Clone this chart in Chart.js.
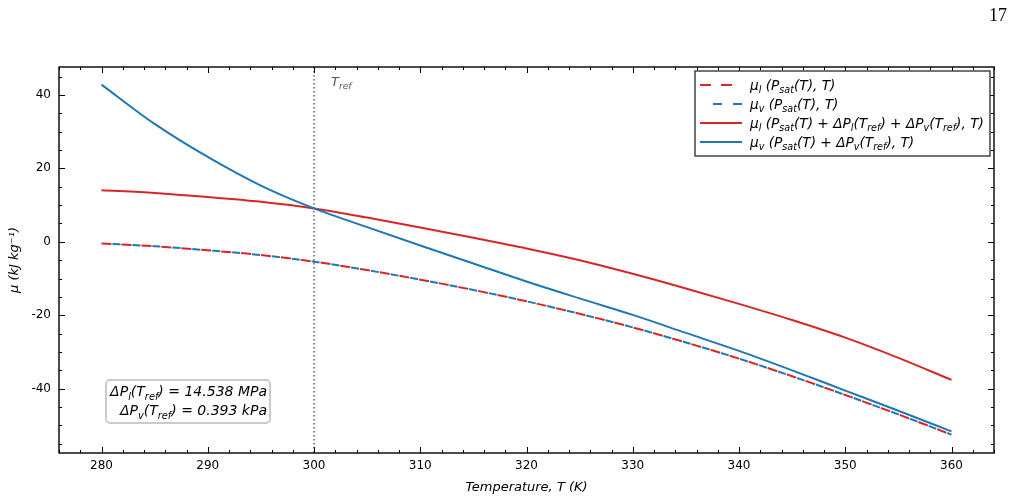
<!DOCTYPE html>
<html>
<head>
<meta charset="utf-8">
<script src="https://cdn.jsdelivr.net/npm/chart.js@4.4.0/dist/chart.umd.min.js"></script>
<style>
  html, body { margin: 0; padding: 0; background: #fff; }
  #wrap { position: relative; width: 1015px; height: 501px; }
  #pageno { position: absolute; right: 8px; top: 5px; font-family: "Liberation Serif", "DejaVu Serif", serif; font-size: 18px; color: #000; }
</style>
</head>
<body>
<div id="wrap">
  <canvas id="muChart" width="1015" height="501"></canvas>
  <div id="pageno">17</div>
</div>
<script>
// temperature grid (K)
var temps = [280, 285, 290, 295, 300, 305, 310, 315, 320, 325, 330, 335, 340, 345, 350, 355, 360];

// chemical potentials, kJ/kg
var muLiqSat   = [-0.45, -1.2, -2.3, -3.6, -5.4, -7.7, -10.3, -13.1, -16.2, -19.6, -23.3, -27.4, -31.8, -36.6, -41.7, -47.0, -52.5];
var muVapSat   = [-0.45, -1.2, -2.3, -3.6, -5.4, -7.7, -10.3, -13.1, -16.2, -19.6, -23.3, -27.4, -31.8, -36.6, -41.7, -47.0, -52.5];
var muLiqShift = [14.05, 13.3, 12.2, 10.9, 9.1, 6.6, 3.9, 1.1, -1.8, -5.0, -8.7, -12.7, -16.9, -21.3, -26.1, -31.6, -37.6];
var muVapShift = [42.8, 32.1, 23.1, 15.3, 9.1, 4.0, -1.0, -5.9, -10.8, -15.4, -19.9, -24.8, -29.7, -35.0, -40.5, -46.0, -51.6];

var xTicks = [280, 290, 300, 310, 320, 330, 340, 350, 360];
var yTicks = [-40, -20, 0, 20, 40];
var tRef = 300;

var RED = '#d62728', BLUE = '#1f77b4';
var FONT = '"DejaVu Sans", sans-serif';

// rich text: [text, mode]  n = italic, s = italic subscript, u = upright
var legendRows = [
  { color: RED,  dash: [11, 10], x0: 0, parts: [['μ','n'],['l','s'],[' (P','n'],['sat','s'],['(T), T)','n']] },
  { color: BLUE, dash: [9, 11], x0: 13, parts: [['μ','n'],['v','s'],[' (P','n'],['sat','s'],['(T), T)','n']] },
  { color: RED,  dash: [], x0: 0, parts: [['μ','n'],['l','s'],[' (P','n'],['sat','s'],['(T) ','n'],['+','u'],[' ΔP','n'],['l','s'],['(T','n'],['ref','s'],[') ','n'],['+','u'],[' ΔP','n'],['v','s'],['(T','n'],['ref','s'],['), T)','n']] },
  { color: BLUE, dash: [], x0: 0, parts: [['μ','n'],['v','s'],[' (P','n'],['sat','s'],['(T) ','n'],['+','u'],[' ΔP','n'],['v','s'],['(T','n'],['ref','s'],['), T)','n']] }
];
var noteRows = [
  [['ΔP','n'],['l','s'],['(T','n'],['ref','s'],[') ','n'],['=','u'],[' 14.538 MPa','n']],
  [['ΔP','n'],['v','s'],['(T','n'],['ref','s'],[') ','n'],['=','u'],[' 0.393 kPa','n']]
];

function fontFor(mode, size) {
  if (mode === 's') return 'italic ' + (size * 0.7).toFixed(1) + 'px ' + FONT;
  if (mode === 'u') return size + 'px ' + FONT;
  return 'italic ' + size + 'px ' + FONT;
}

function drawRich(ctx, parts, x, y, size, align) {
  var w = 0;
  parts.forEach(function (p) { ctx.font = fontFor(p[1], size); w += ctx.measureText(p[0]).width; });
  var cx = align === 'right' ? x - w : x;
  ctx.textAlign = 'left';
  ctx.textBaseline = 'alphabetic';
  parts.forEach(function (p) {
    ctx.font = fontFor(p[1], size);
    ctx.fillText(p[0], cx, y + (p[1] === 's' ? size * 0.25 : 0));
    cx += ctx.measureText(p[0]).width;
  });
}

var decorPlugin = {
  id: 'decor',
  beforeDatasetsDraw: function (chart) {
    var ctx = chart.ctx, a = chart.chartArea;
    var px = chart.scales.x.getPixelForValue(tRef);
    ctx.save();
    ctx.strokeStyle = '#666';
    ctx.lineWidth = 1.5;
    ctx.setLineDash([1.5, 2.5]);
    ctx.beginPath();
    ctx.moveTo(px, a.top);
    ctx.lineTo(px, a.bottom);
    ctx.stroke();
    ctx.restore();
  },
  afterDraw: function (chart) {
    var ctx = chart.ctx, a = chart.chartArea, xs = chart.scales.x, ys = chart.scales.y;
    ctx.save();
    // frame
    ctx.strokeStyle = '#000';
    ctx.lineWidth = 1.4;
    ctx.strokeRect(a.left, a.top, a.right - a.left, a.bottom - a.top);
    // inward ticks on all sides
    ctx.lineWidth = 1;
    ctx.beginPath();
    for (var v = 276; v <= 364; v += 2) {
      var len = v % 10 === 0 ? 6 : 3;
      var p = Math.round(xs.getPixelForValue(v)) + 0.5;
      ctx.moveTo(p, a.bottom); ctx.lineTo(p, a.bottom - len);
      ctx.moveTo(p, a.top); ctx.lineTo(p, a.top + len);
    }
    for (var w = -55; w <= 45; w += 5) {
      var l2 = w % 20 === 0 ? 6 : 3;
      var q = Math.round(ys.getPixelForValue(w)) + 0.5;
      ctx.moveTo(a.left, q); ctx.lineTo(a.left + l2, q);
      ctx.moveTo(a.right, q); ctx.lineTo(a.right - l2, q);
    }
    ctx.stroke();

    // T_ref label
    ctx.fillStyle = '#555';
    drawRich(ctx, [['T','n'],['ref','s']], xs.getPixelForValue(tRef) + 17, a.top + 19, 13, 'left');

    // legend
    var bx = a.right - 299, by = a.top + 4, bw = 295, bh = 85;
    ctx.fillStyle = '#fff';
    ctx.fillRect(bx, by, bw, bh);
    ctx.strokeStyle = '#444';
    ctx.lineWidth = 1.5;
    ctx.strokeRect(bx, by, bw, bh);
    legendRows.forEach(function (r, i) {
      var cy = by + 14 + i * 19;
      ctx.strokeStyle = r.color;
      ctx.lineWidth = 2;
      ctx.setLineDash(r.dash);
      ctx.beginPath();
      ctx.moveTo(bx + 5 + r.x0, cy);
      ctx.lineTo(bx + 47, cy);
      ctx.stroke();
      ctx.setLineDash([]);
      ctx.fillStyle = '#000';
      drawRich(ctx, r.parts, bx + 55, cy + 4.5, 13.7, 'left');
    });

    // note box
    var nx = a.left + 47, ny = a.top + 313, nw = 164, nh = 43, rr = 4;
    ctx.beginPath();
    ctx.roundRect(nx, ny, nw, nh, rr);
    ctx.fillStyle = '#fff';
    ctx.fill();
    ctx.strokeStyle = '#bbb';
    ctx.lineWidth = 1.5;
    ctx.stroke();
    ctx.fillStyle = '#000';
    noteRows.forEach(function (parts, i) {
      drawRich(ctx, parts, nx + nw - 3, ny + 16 + i * 19, 14, 'right');
    });
    ctx.restore();
  }
};

function series(vals) {
  return temps.map(function (t, i) { return { x: t, y: vals[i] }; });
}

new Chart(document.getElementById('muChart'), {
  type: 'line',
  data: {
    datasets: [
      { label: 'mu_v shift', data: series(muVapShift), borderColor: BLUE, borderWidth: 2, order: 0 },
      { label: 'mu_l shift', data: series(muLiqShift), borderColor: RED, borderWidth: 2, order: 1 },
      { label: 'mu_v sat', data: series(muVapSat), borderColor: BLUE, borderWidth: 2, borderDash: [8, 12], borderDashOffset: 9, order: 2 },
      { label: 'mu_l sat', data: series(muLiqSat), borderColor: RED, borderWidth: 2, borderDash: [10, 10], order: 3 }
    ]
  },
  options: {
    responsive: false,
    animation: false,
    layout: { padding: { left: 0, right: 21, top: 67, bottom: 0 } },
    elements: {
      point: { radius: 0 },
      line: { fill: false, cubicInterpolationMode: 'monotone' }
    },
    plugins: {
      legend: { display: false },
      tooltip: { enabled: false }
    },
    scales: {
      x: {
        type: 'linear',
        min: 276,
        max: 364,
        afterBuildTicks: function (s) { s.ticks = xTicks.map(function (v) { return { value: v }; }); },
        afterFit: function (s) { s.height = 48; },
        grid: { display: false, drawTicks: false },
        border: { display: false },
        ticks: { padding: 6, color: '#000', maxRotation: 0, font: { family: FONT, size: 12 } },
        title: { display: true, text: 'Temperature, T (K)', color: '#000', padding: { top: 0, bottom: 6 }, font: { family: FONT, size: 13, style: 'italic' } }
      },
      y: {
        type: 'linear',
        min: -57.5,
        max: 47.6,
        afterBuildTicks: function (s) { s.ticks = yTicks.map(function (v) { return { value: v }; }); },
        afterFit: function (s) { s.width = 59; },
        grid: { display: false, drawTicks: false },
        border: { display: false },
        ticks: { padding: 8, color: '#000', font: { family: FONT, size: 12 } },
        title: { display: true, text: 'μ (kJ kg⁻¹)', color: '#000', padding: { top: 7, bottom: 0 }, font: { family: FONT, size: 13, style: 'italic' } }
      }
    }
  },
  plugins: [decorPlugin]
});
</script>
</body>
</html>
